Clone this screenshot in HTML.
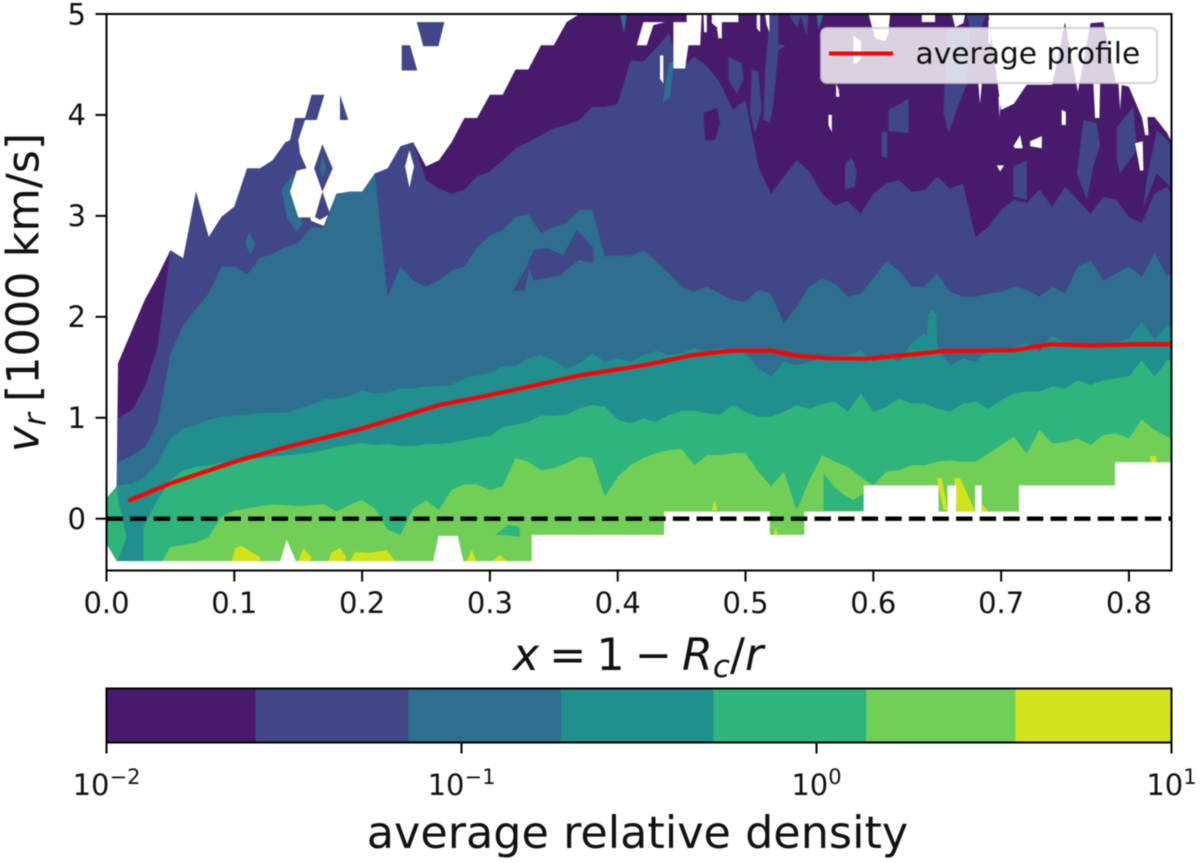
<!DOCTYPE html>
<html>
<head>
<meta charset="utf-8">
<title>Radial velocity density map</title>
<style>
html,body{margin:0;padding:0;background:#fff;}
svg{display:block;filter:blur(0.6px);}
text{font-family:"DejaVu Sans","Liberation Sans",sans-serif;fill:#111;}
</style>
</head>
<body>
<svg id="chart" xmlns="http://www.w3.org/2000/svg" width="1200" height="863" viewBox="0 0 1200 863">
  <rect x="0" y="0" width="1200" height="863" fill="#fff"/>
  <g id="field"></g>
  <g id="overlay"></g>
  <g id="frame"></g>
  <g id="legend">
    <rect x="821" y="28" width="336" height="55" rx="6" fill="rgba(255,255,255,0.8)" stroke="rgba(204,204,204,0.8)" stroke-width="2"/>
    <line id="legend-line" x1="829" y1="53.5" x2="893" y2="53.5" stroke="#ff0000" stroke-width="4"/>
    <text x="915.5" y="63.5" font-size="29.7">average profile</text>
  </g>
  <g id="ticks"></g>
  <text x="638" y="670" font-size="44.5" text-anchor="middle"><tspan font-style="italic">x</tspan><tspan dx="10">=</tspan><tspan dx="10">1</tspan><tspan dx="10">−</tspan><tspan dx="10" font-style="italic">R</tspan><tspan font-style="italic" font-size="31" dy="7">c</tspan><tspan dy="-7">/</tspan><tspan font-style="italic">r</tspan></text>
  <text transform="translate(38.5,292.5) rotate(-90)" font-size="44.5" text-anchor="middle"><tspan font-style="italic">v</tspan><tspan font-style="italic" font-size="31" dy="7">r</tspan><tspan dy="-7" dx="11">[1000 km/s]</tspan></text>
  <g id="colorbar"></g>
  <text x="637.5" y="848" font-size="44.5" text-anchor="middle">average relative density</text>
</svg>
<script>
/* ---------- axis limits ---------- */
const xLimits = [0, 0.8333];
const yLimits = [-0.5, 5];
const xTickValues = [0, 0.1, 0.2, 0.3, 0.4, 0.5, 0.6, 0.7, 0.8];
const xTickLabels = ['0.0', '0.1', '0.2', '0.3', '0.4', '0.5', '0.6', '0.7', '0.8'];
const yTickValues = [0, 1, 2, 3, 4, 5];
const yTickLabels = ['0', '1', '2', '3', '4', '5'];

/* ---------- contour boundaries: velocity (1000 km/s) at each x ---------- */
const contourX = [0,.008,.009,.02,.03,.04,.05,.06,.07,.08,.09,.10,.11,.12,.13,.14,.15,.16,.17,.18,.19,.20,.21,.22,.23,.24,.25,.26,.27,.28,.29,.30,.31,.32,.33,.34,.35,.36,.37,.38,.39,.40,.41,.42,.43,.44,.45,.46,.47,.48,.49,.50,.51,.52,.53,.54,.55,.56,.57,.58,.59,.60,.61,.62,.63,.64,.65,.66,.67,.68,.69,.70,.71,.72,.73,.74,.75,.76,.77,.78,.79,.80,.81,.82,.83,.8333];
const purpleTop = [.2,.32,1.54,1.87,2.17,2.40,2.66,2.58,3.24,2.79,2.99,3.09,
  3.47,3.47,3.55,3.73,3.47,2.95,2.9,3.22,3.24,3.24,
  3.42,3.47,3.69,3.73,3.49,3.55,3.73,3.97,3.97,4.2,
  4.2,4.45,4.45,4.69,4.69,4.92,
  5,5,5,5,5,5,5,5,5,5,
  5,5,5,5,5,5,5,5,5,5,
  5,5,5,5,5,5,5,5,5,5,
  5,5,5,
  4.05,4.11,4.30,4.30,4.30,4.92,4.23,4.91,4.92,4.31,4.28,3.98,3.98,3.82,3.73];
const blueTop = [.2,.32,.995,1.08,1.31,1.70,2.66,2.58,3.24,2.79,2.99,3.09,
  3.47,3.47,3.55,3.73,3.47,2.95,2.9,3.22,3.24,3.24,
  3.42,3.47,3.69,3.73,
  3.355,3.27,3.22,3.26,3.39,3.44,
  3.55,3.67,3.73,3.80,3.87,3.9,3.95,4.08,4.08,4.11,
  4.54,4.53,4.66,4.81,4.46,4.58,4.48,4.32,4.05,4.15,
  3.49,3.22,3.39,3.55,3.44,3.22,3.10,3.15,3.02,3.22,
  3.32,3.355,3.24,3.255,3.39,3.27,3.32,2.79,2.89,3.06,
  3.16,3.13,3.26,3.09,3.29,3.16,3.02,3.19,3.16,2.99,
  2.93,3.22,3.29,3.21];
const tealTop = [.2,.32,.555,.63,.71,.945,1.64,1.92,2.08,2.23,2.50,2.50,2.42,2.58,2.63,2.69,2.73,2.89,2.88,3.22,3.24,3.24,3.42,2.2,2.50,2.36,2.30,2.36,2.46,2.50,2.69,2.81,2.86,2.99,3.02,2.83,2.89,2.93,3.06,3.06,2.6,2.61,2.6,2.66,2.55,2.43,2.3,2.25,2.3,2.23,2.165,2.15,2.27,2.23,1.935,2.10,2.30,2.38,2.33,2.2,2.23,2.38,2.55,2.46,2.3,2.3,2.43,2.25,2.2,2.2,2.23,2.25,2.3,2.27,2.2,2.3,2.23,2.50,2.56,2.36,2.43,2.5,2.40,2.63,2.40,2.43];
const seaTop = [.2,.32,.33,.35,.415,.55,.795,.895,.93,.98,1.01,1.02,1.03,1.045,1.05,1.05,1.09,1.125,1.18,1.19,1.215,1.275,1.24,1.25,1.29,1.29,1.31,1.315,1.325,1.39,1.42,1.44,1.51,1.51,1.59,1.62,1.57,1.49,1.54,1.64,1.555,1.59,1.555,1.62,1.66,1.62,1.64,1.69,1.655,1.69,1.67,1.64,1.49,1.41,1.555,1.52,1.555,1.59,1.62,1.62,1.67,1.555,1.64,1.555,1.74,1.835,1.70,1.52,1.59,1.555,1.67,1.67,1.70,1.74,1.655,1.82,1.74,1.74,1.74,1.74,1.74,1.79,1.95,1.77,1.92,1.90];
const greenTop = [.2,.32,.2,-.42,-.05,.185,.38,.48,.515,.53,.555,.58,.59,.6,.615,.625,.64,.655,.68,.71,.73,.75,.73,.74,.72,.72,.74,.74,.75,.78,.805,.82,.91,.93,.96,1.02,1.02,1.03,1.09,1.125,1.11,.98,.945,.995,.96,1.03,1.07,1.07,1.045,1.03,1.125,1.06,1.01,1.01,1.06,1.125,1.09,1.14,1.16,1.06,1.24,1.06,1.11,1.19,1.14,1.14,1.09,1.06,1.14,1.16,1.09,1.175,1.24,1.26,1.26,1.31,1.29,1.37,1.325,1.37,1.39,1.41,1.57,1.41,1.57,1.57];
const limeTop = [-.5,-.5,-.5,-.5,-.5,-.5,-.28,-.26,-.24,-.18,.02,.08,.10,.125,.14,.135,.125,.135,.145,.07,.135,.185,.10,-.11,-.16,.10,.18,.085,.285,.34,.34,.285,.32,.60,.565,.48,.50,.55,.615,.60,.22,.415,.53,.60,.65,.68,.69,.53,.63,.63,.65,.65,.465,.32,.465,.085,.38,.63,.565,.515,.415,.33,.465,.48,.53,.53,.565,.58,.565,.565,.645,.73,.81,.645,.88,.745,.76,.795,.73,.83,.845,.795,.98,.88,.81,.81];

/* lower edge of the sampled data: step function */
const floorEdges = [0,.3327,.4363,.519,.546,.5925,.651,.714,.789,.8333];
const floorLevels = [-.42,-.16,.07,-.16,.07,.33,.07,.33,.56];

/* isolated contour islands, as [x, velocity] vertices */
const blueIslands = [
  [[.1399,3.73],[.1436,3.75],[.1475,3.97],[.1553,3.97],[.1605,4.20],[.1705,4.20],[.1645,3.95],[.1553,3.95],[.1501,3.75],[.1514,3.62],[.1566,3.47],[.1488,3.45]],
  [[.1827,4.20],[.1892,3.95],[.1827,3.95]],
  [[.2427,4.92],[.2644,4.92],[.2597,4.68],[.2479,4.68]],
  [[.2310,4.69],[.2375,4.69],[.2432,4.44],[.2310,4.44]],
  [[.1689,3.71],[.1770,3.47],[.1689,3.24],[.1749,3.02],[.167,2.96],[.1631,2.99],[.1689,3.24],[.1624,3.47]],
  [[.5192,5],[.5257,5],[.5257,4.71],[.5310,4.68],[.5257,4.64],[.5218,4.11],[.5192,3.92],[.514,3.95],[.5153,4.45]],
  [[.5049,4.45],[.5101,4.43],[.5127,4.05],[.5075,3.82],[.5036,4.02]],
  [[.4866,4.58],[.4970,4.51],[.4984,4.35],[.4931,4.21],[.4866,4.35]],
  [[.5336,5],[.544,5],[.5401,4.86]],
  [[.5427,5],[.5492,5],[.5479,4.78]],
  [[.6731,5],[.6888,5],[.6835,4.84],[.6757,4.84]],
  [[.6575,4.85],[.6757,4.85],[.6731,4.31],[.6653,4.05],[.6588,3.82],[.6549,4.02]],
  [[.6118,4.05],[.6275,4.16],[.6275,3.82],[.6118,3.84]],
  [[.6066,3.83],[.611,3.83],[.611,3.57],[.6066,3.59]],
  [[.5779,3.52],[.5831,3.57],[.5870,3.45],[.5857,3.29],[.5779,3.26]],
  [[.7096,3.49],[.72,3.55],[.72,3.16],[.7096,3.19]],
  [[.7644,3.95],[.7748,3.92],[.7774,3.69],[.7722,3.49],[.767,3.16],[.7592,3.42]],
  [[.7905,3.88],[.8035,4.08],[.8061,3.65],[.7931,3.42],[.7905,3.55]],
  [[.8218,3.85],[.8322,3.72],[.8322,3.29],[.8218,3.42],[.8113,3.09],[.8139,3.36]],
  [[.318,2.26],[.329,2.50],[.334,2.66],[.3445,2.68],[.3575,2.61],[.368,2.86],[.381,2.68],[.381,2.53],[.370,2.56],[.363,2.50],[.355,2.41],[.334,2.36],[.331,2.48],[.327,2.26]]
];
const purpleIslands = [
  [[.4671,4.02],[.4775,4.07],[.4801,3.92],[.4762,3.75],[.4684,3.75]]
];
const tealIslands = [
  [[.1462,3.42],[.137,3.26],[.141,2.99],[.1488,2.84],[.154,2.93],[.1449,3.16]],
  [[.1084,2.74],[.1118,2.84],[.1162,2.72],[.1123,2.61]],
  [[.1689,3.6],[.1718,3.47],[.1689,3.37],[.167,3.47]],
  [[.5557,5],[.5609,5],[.5570,4.84]],
  [[.4018,5],[.407,5],[.405,4.81]],
  [[.4352,4.11],[.4397,4.51],[.4441,4.53],[.441,4.18]]
];
const seaIslands = [
  [[.6418,1.74],[.6431,2.03],[.6457,2.07],[.6491,2.03],[.6502,1.70]],
  [[.0145,0],[.0288,-.05],[.0288,-.42],[.0085,-.42],[.0179,-.11]]
];
const greenIslands = [
  [[.304,-.16],[.3145,-.06],[.323,-.08],[.3236,-.18],[.3106,-.16]],
  [[.561,.45],[.569,.32],[.5766,.24],[.5844,.185],[.5923,.25],[.5923,.08],[.561,.08]]
];
const yellowIslands = [
  [[.098,-.42],[.1006,-.29],[.1058,-.27],[.1201,-.38],[.1201,-.42]],
  [[.1501,-.42],[.154,-.29],[.1605,-.38],[.1592,-.42]],
  [[.1736,-.42],[.1762,-.33],[.1827,-.29],[.1879,-.38],[.1866,-.42]],
  [[.1905,-.42],[.1945,-.33],[.206,-.34],[.2192,-.31],[.2258,-.42]],
  [[.2818,-.42],[.2858,-.31],[.2897,-.42]],
  [[.3014,-.42],[.308,-.36],[.3132,-.42]],
  [[.4736,.085],[.4757,.18],[.478,.085]],
  [[.5218,-.16],[.524,-.08],[.525,-.16]],
  [[.6496,.40],[.6536,.40],[.658,.085],[.6549,.085]],
  [[.6632,.40],[.6679,.40],[.6796,.07],[.6653,.07]],
  [[.6848,.15],[.69,.07],[.6848,.07]],
  [[.8166,.62],[.8213,.62],[.8213,.56],[.8166,.56]]
];
const emptyHoles = [
  [[.1488,3.45],[.1436,3.24],[.1501,2.985],[.1618,2.985],[.1684,3.24],[.1579,3.45]],
  [[.237,3.65],[.2406,3.49],[.237,3.28],[.2336,3.49]],
  [[.4149,4.69],[.4201,4.92],[.4371,4.92],[.4279,4.89],[.4227,4.69]],
  [[.4436,4.46],[.4436,4.92],[.454,4.92],[.454,5],[.4657,5],[.4645,4.69],[.4553,4.69],[.4527,4.46]],
  [[.4331,4.59],[.4357,4.59],[.4357,4.31],[.4331,4.36]],
  [[.4671,5],[.4697,5],[.4697,4.82],[.4676,4.82]],
  [[.4736,5],[.4944,5],[.4944,4.92],[.4814,4.92],[.4814,4.76],[.4788,4.76],[.4775,4.87],[.4736,4.91]],
  [[.5088,5],[.5114,5],[.5114,4.82],[.5088,4.86]],
  [[.5153,5],[.5187,5],[.5187,4.82],[.5166,4.89]],
  [[.5649,4.0],[.5675,4.0],[.5675,3.83],[.5649,3.90]],
  [[.5709,4.31],[.5730,4.25],[.5735,4.18],[.5709,4.18]],
  [[.5844,4.79],[.5904,4.73],[.5904,4.56],[.5870,4.51],[.5844,4.51]],
  [[.5962,5],[.6131,5],[.6118,4.81],[.6092,4.73],[.6014,4.76]],
  [[.6379,5],[.6483,5],[.6483,4.92],[.6379,4.92]],
  [[.6614,5],[.6718,5],[.6705,4.91],[.664,4.87]],
  [[.69,4.94],[.6919,4.94],[.6919,4.71],[.69,4.71]],
  [[.6822,4.31],[.6849,4.31],[.6835,4.11]],
  [[.6979,4.18],[.6997,4.18],[.6987,3.97]],
  [[.7096,3.69],[.7148,3.80],[.7169,3.67],[.7109,3.67]],
  [[.7227,3.74],[.7318,3.79],[.7318,3.67],[.7227,3.69]],
  [[.6966,3.5],[.7023,3.5],[.6992,3.44]],
  [[.7474,4.05],[.7506,4.03],[.7506,3.90],[.7474,3.90]],
  [[.7722,4.31],[.7774,4.31],[.7769,3.97],[.7735,3.97]],
  [[.8087,4.08],[.814,4.08],[.8153,3.80],[.8127,3.80]],
  [[.8048,3.72],[.8108,3.74],[.8113,3.45],[.8087,3.45]],
  [[.7918,4.31],[.7944,4.31],[.7931,4.05]],
  [[.8035,4.31],[.8061,4.31],[.8048,4.16]],
  [[.1358,-.42],[.141,-.21],[.1483,-.42]],
  [[.2557,-.42],[.2597,-.17],[.2748,-.17],[.2792,-.42]],
  [[0,-.25],[.008,-.42],[0,-.42]],
  [[.658,.33],[.6648,.33],[.6648,.07],[.658,.07]],
  [[.6796,.33],[.6848,.33],[.6848,.07],[.6796,.07]]
];

/* average velocity profile */
const profileX = [.017,.05,.10,.144,.20,.26,.30,.37,.42,.458,.49,.52,.54,.565,.595,.62,.655,.71,.725,.74,.77,.805,.8333];
const profileV = [.178,.35,.565,.72,.895,1.125,1.225,1.42,1.52,1.62,1.665,1.665,1.615,1.59,1.585,1.615,1.66,1.67,1.70,1.73,1.715,1.73,1.73];
const zeroLineV = [0];

/* colour bar: log10 of density at the level boundaries */
const levelLog = [-2,-1.58,-1.15,-.72,-.29,.14,.56,1];
const levelColors = ['#481a6c','#404687','#2e6e8e','#218f8d','#2fb47c','#71cf57','#d2e21b'];
const cbarTickLog = [-2,-1,0,1];
const cbarTickExp = ['−2','−1','0','1'];
const cbarTickBase = ['10','10','10','10'];

/* ---------- layout + scales ---------- */
const plotL = 106.5, plotR = 1171.5, plotT = 14, plotB = 570.5;
const cbarT = 688.5, cbarB = 742.5;
const sx = x => plotL + (x - xLimits[0]) / (xLimits[1] - xLimits[0]) * (plotR - plotL);
const sy = v => 518.7 - (v - 0) * ((518.7 - plotT) / (yLimits[1] - 0));
const sc = l => plotL + (l - levelLog[0]) / (levelLog[levelLog.length - 1] - levelLog[0]) * (plotR - plotL);
const NS = 'http://www.w3.org/2000/svg';
function make(tag, parent, attrs) {
  const el = document.createElementNS(NS, tag);
  for (const k in attrs) el.setAttribute(k, attrs[k]);
  parent.appendChild(el);
  return el;
}
function pts(list) {
  return list.map(p => sx(p[0]).toFixed(1) + ',' + sy(p[1]).toFixed(1)).join(' ');
}

const field = document.getElementById('field');
const overlay = document.getElementById('overlay');
const frame = document.getElementById('frame');
const ticks = document.getElementById('ticks');
const colorbar = document.getElementById('colorbar');

/* clip */
const defs = make('defs', document.getElementById('chart'), {});
const clip = make('clipPath', defs, {id: 'plot-clip'});
make('rect', clip, {x: plotL, y: plotT, width: plotR - plotL, height: plotB - plotT});
field.setAttribute('clip-path', 'url(#plot-clip)');
overlay.setAttribute('clip-path', 'url(#plot-clip)');

/* contour bands, painted from the lowest density up */
const bandTops = [purpleTop, blueTop, tealTop, seaTop, greenTop, limeTop];
const bandNames = ['purple', 'blue', 'teal', 'sea', 'green', 'lime'];
bandTops.forEach(function (tops, i) {
  const outline = contourX.map((x, j) => [x, tops[j]]);
  outline.push([contourX[contourX.length - 1], yLimits[0]], [contourX[0], yLimits[0]]);
  const band = make('polygon', field, {points: pts(outline), fill: levelColors[i]});
  
  
});

/* islands */
function paintIslands(list, color, label) {
  list.forEach(function (shape) {
    const isl = make('polygon', field, {points: pts(shape), fill: color});
    
    
  });
}
paintIslands(purpleIslands, levelColors[0], 'contour-island-purple');
paintIslands(blueIslands, levelColors[1], 'contour-island-blue');
paintIslands(tealIslands, levelColors[2], 'contour-island-teal');
paintIslands(seaIslands, levelColors[3], 'contour-island-sea');
paintIslands(greenIslands, levelColors[4], 'contour-island-green');
paintIslands(yellowIslands, levelColors[6], 'contour-island-yellow');
paintIslands(emptyHoles, '#ffffff', 'empty-data-hole');

/* white region below the data floor */
const floorOutline = [];
floorLevels.forEach(function (lv, i) {
  floorOutline.push([floorEdges[i], lv], [floorEdges[i + 1], lv]);
});
floorOutline.push([xLimits[1], yLimits[0] - 0.05], [xLimits[0], yLimits[0] - 0.05]);
const floorMask = make('polygon', field, {points: pts(floorOutline), fill: '#ffffff'});



/* zero line + profile */
const zero = make('line', overlay, {x1: sx(xLimits[0]), x2: sx(xLimits[1]), y1: sy(zeroLineV[0]), y2: sy(zeroLineV[0]), stroke: '#000', 'stroke-width': 4.4, 'stroke-dasharray': '16.4 7.2'});


const profile = make('polyline', overlay, {points: pts(profileX.map((x, i) => [x, profileV[i]])), fill: 'none', stroke: '#ff0000', 'stroke-width': 4.2, 'stroke-linejoin': 'round'});



/* axes frame */
const box = make('rect', frame, {x: plotL, y: plotT, width: plotR - plotL, height: plotB - plotT, fill: 'none', stroke: '#000', 'stroke-width': 2});



/* x ticks */
xTickValues.forEach(function (v, i) {
  const t = make('line', ticks, {x1: sx(v), x2: sx(v), y1: plotB, y2: plotB + 11, stroke: '#000', 'stroke-width': 2});
  
  
  const lb = make('text', ticks, {x: sx(v), y: 613, 'font-size': 29, 'text-anchor': 'middle'});
  lb.textContent = xTickLabels[i];
  
  
});
/* y ticks */
yTickValues.forEach(function (v, i) {
  const t = make('line', ticks, {x1: plotL - 11, x2: plotL, y1: sy(v), y2: sy(v), stroke: '#000', 'stroke-width': 2});
  
  
  const lb = make('text', ticks, {x: 86, y: sy(v) + 10.3, 'font-size': 29, 'text-anchor': 'end'});
  lb.textContent = yTickLabels[i];
  
  
});

/* colour bar */
levelColors.forEach(function (c, i) {
  const seg = make('rect', colorbar, {x: sc(levelLog[i]), y: cbarT, width: sc(levelLog[i + 1]) - sc(levelLog[i]) + 0.3, height: cbarB - cbarT, fill: c});
  
  
});
const cbBox = make('rect', colorbar, {x: plotL, y: cbarT, width: plotR - plotL, height: cbarB - cbarT, fill: 'none', stroke: '#000', 'stroke-width': 2});


cbarTickLog.forEach(function (l, i) {
  const t = make('line', colorbar, {x1: sc(l), x2: sc(l), y1: cbarB, y2: cbarB + 11, stroke: '#000', 'stroke-width': 2});
  
  
  const lb = make('text', colorbar, {x: sc(l), y: 795, 'font-size': 29, 'text-anchor': 'middle'});
  
  
  const base = make('tspan', lb, {});
  base.textContent = cbarTickBase[i];
  const sup = make('tspan', lb, {'font-size': 21, dy: -11});
  sup.textContent = cbarTickExp[i];
});
</script>
</body>
</html>
